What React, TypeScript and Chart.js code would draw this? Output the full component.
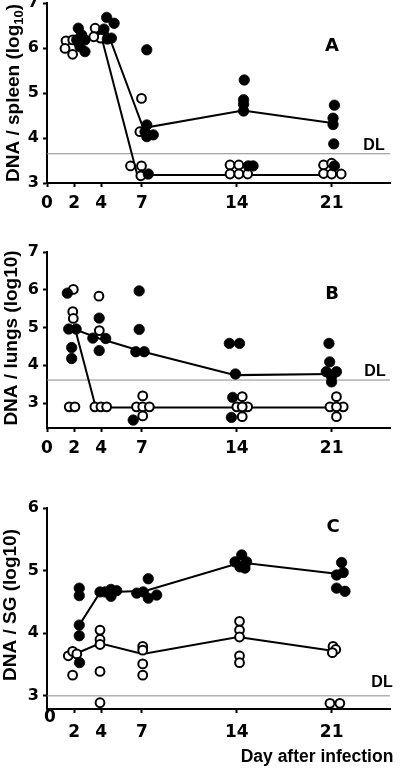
import React, { useEffect, useRef } from 'react';
import { Chart, registerables } from 'chart.js';
Chart.register(...registerables);

const FONT = "'Liberation Sans', Arial, Helvetica, sans-serif";
const TICK_FONT = "'DejaVu Sans', 'Liberation Sans', Arial, sans-serif";
const X_TICKS = [0, 2, 4, 7, 14, 21];
const X_MAX = 25.3;

// ---------- Panel A : spleen ----------
const A_Y_TICKS = [3, 4, 5, 6, 7];
const A_FILLED_DAY = [2.31, 2.19, 2.8, 2.8, 2.43, 2.56, 4.4, 4.95, 4.2, 4.75, 4.45, 7.36, 7.36, 7.23, 7.36, 7.84, 7.47, 14.55, 14.5, 14.5, 14.5, 14.85, 15.2, 21.2, 21.1, 21.1, 21.15, 21.2];
const A_FILLED_VAL = [6.44, 6.18, 6.18, 5.92, 6.03, 6.29, 6.68, 6.55, 6.42, 6.22, 6.2, 5.96, 4.29, 4.14, 4.03, 4.07, 3.2, 5.29, 4.85, 4.75, 4.6, 3.38, 3.38, 4.73, 4.44, 4.3, 3.87, 3.38];
const A_OPEN_DAY = [1.4, 1.33, 1.89, 1.9, 3.55, 3.95, 3.45, 6.97, 6.85, 6.16, 6.97, 6.92, 13.5, 14.15, 13.5, 14.15, 14.8, 20.4, 21.0, 20.4, 21.0, 21.7];
const A_OPEN_VAL = [6.16, 5.99, 5.86, 6.18, 6.44, 6.22, 6.25, 4.88, 4.14, 3.38, 3.38, 3.16, 3.4, 3.4, 3.2, 3.2, 3.2, 3.4, 3.44, 3.21, 3.2, 3.2];
const A_FILLED_MEAN_DAY = [2.5, 4.4, 7.1, 14.45, 21.3];
const A_FILLED_MEAN_VAL = [6.15, 6.4, 4.22, 4.61, 4.32];
const A_OPEN_MEAN_DAY = [2.0, 3.9, 6.66, 14, 21];
const A_OPEN_MEAN_VAL = [6.05, 6.38, 3.18, 3.18, 3.18];
const A_DL = 3.65;

// ---------- Panel B : lungs ----------
const B_Y_TICKS = [3, 4, 5, 6, 7];
const B_FILLED_DAY = [1.5, 1.6, 2.15, 1.82, 1.82, 3.38, 4.33, 3.85, 3.85, 6.8, 6.8, 6.55, 7.17, 6.36, 13.45, 14.2, 13.9, 13.7, 13.6, 20.8, 20.85, 20.6, 21.35, 20.99, 20.99];
const B_FILLED_VAL = [5.91, 4.96, 4.96, 4.47, 4.18, 4.72, 4.71, 5.25, 4.39, 5.97, 4.95, 4.36, 4.36, 2.55, 4.58, 4.58, 3.77, 3.15, 2.62, 4.58, 4.09, 3.83, 3.83, 3.7, 3.56];
const B_OPEN_DAY = [1.94, 1.9, 1.94, 1.64, 2.06, 3.83, 3.86, 3.53, 3.98, 4.4, 7.06, 6.6, 7.06, 7.55, 7.06, 14.4, 14.0, 14.8, 14.4, 14.4, 21.35, 20.87, 21.85, 21.35, 21.35];
const B_OPEN_VAL = [6.01, 5.42, 5.24, 2.9, 2.9, 5.83, 4.92, 2.9, 2.9, 2.9, 3.19, 2.9, 2.9, 2.9, 2.66, 3.17, 2.9, 2.9, 2.9, 2.64, 3.17, 2.9, 2.9, 2.9, 2.64];
const B_FILLED_MEAN_DAY = [2.06, 3.85, 7.1, 13.9, 21.0];
const B_FILLED_MEAN_VAL = [4.95, 4.71, 4.36, 3.74, 3.77];
const B_OPEN_MEAN_DAY = [2.1, 3.6, 7, 14, 21.4];
const B_OPEN_MEAN_VAL = [4.93, 2.88, 2.88, 2.88, 2.88];
const B_DL = 3.61;

// ---------- Panel C : salivary glands ----------
const C_Y_TICKS = [3, 4, 5, 6];
const C_FILLED_DAY = [2.38, 2.38, 2.38, 2.38, 2.4, 3.91, 4.28, 4.72, 4.72, 5.14, 7.47, 6.62, 7.1, 7.47, 8.09, 14.36, 13.87, 14.72, 14.23, 14.6, 21.73, 21.85, 21.36, 21.36, 21.98];
const C_FILLED_VAL = [4.72, 4.6, 4.13, 3.96, 3.53, 4.66, 4.66, 4.7, 4.59, 4.68, 4.87, 4.64, 4.66, 4.56, 4.61, 5.25, 5.14, 5.14, 5.06, 5.04, 5.13, 4.97, 4.93, 4.72, 4.67];
const C_OPEN_DAY = [1.57, 1.89, 2.2, 1.89, 3.91, 3.91, 3.91, 3.91, 3.91, 7.06, 7.06, 7.06, 7.06, 14.2, 14.2, 14.2, 14.2, 14.2, 21.1, 21.3, 21.05, 20.87, 21.6];
const C_OPEN_VAL = [3.64, 3.71, 3.67, 3.33, 4.05, 3.9, 3.82, 3.39, 2.89, 3.79, 3.73, 3.51, 3.33, 4.19, 4.05, 3.94, 3.64, 3.53, 3.79, 3.74, 3.69, 2.88, 2.88];
const C_FILLED_MEAN_DAY = [2.38, 3.91, 7.3, 14.3, 21.36];
const C_FILLED_MEAN_VAL = [4.13, 4.65, 4.68, 5.13, 4.95];
const C_OPEN_MEAN_DAY = [2.2, 3.91, 7.06, 14.1, 21.05];
const C_OPEN_MEAN_VAL = [3.68, 3.84, 3.67, 3.94, 3.72];
const C_DL = 3.0;

type TitlePart = { text: string; sub?: boolean };
type Panel = {
  top: number; height: number; areaTop: number; areaBottom: number;
  yMin: number; yMax: number; yTicks: number[];
  fd: number[]; fv: number[]; od: number[]; ov: number[];
  fmd: number[]; fmv: number[]; omd: number[]; omv: number[];
  dl: number;
  letter: string; letterX: number; letterY: number;
  dlX: number; dlY: number;
  title: TitlePart[]; titleX: number; titleY: number;
  hideZero?: boolean; xPad: number;
  extra?: boolean;
};

const PANELS: Panel[] = [
  {
    top: -12, height: 227, areaTop: 15, areaBottom: 195, yMin: 3, yMax: 7, yTicks: A_Y_TICKS,
    fd: A_FILLED_DAY, fv: A_FILLED_VAL, od: A_OPEN_DAY, ov: A_OPEN_VAL,
    fmd: A_FILLED_MEAN_DAY, fmv: A_FILLED_MEAN_VAL, omd: A_OPEN_MEAN_DAY, omv: A_OPEN_MEAN_VAL,
    dl: A_DL, letter: 'A', letterX: 332, letterY: 46, dlX: 374, dlY: 146,
    title: [{ text: 'DNA / spleen (log' }, { text: '10', sub: true }, { text: ')' }], titleX: 14, titleY: 93,
    xPad: 6,
  },
  {
    top: 230, height: 232, areaTop: 22, areaBottom: 198, yMin: 2.34, yMax: 7, yTicks: B_Y_TICKS,
    fd: B_FILLED_DAY, fv: B_FILLED_VAL, od: B_OPEN_DAY, ov: B_OPEN_VAL,
    fmd: B_FILLED_MEAN_DAY, fmv: B_FILLED_MEAN_VAL, omd: B_OPEN_MEAN_DAY, omv: B_OPEN_MEAN_VAL,
    dl: B_DL, letter: 'B', letterX: 332, letterY: 294, dlX: 375, dlY: 372,
    title: [{ text: 'DNA / lungs (log10)' }], titleX: 12, titleY: 338,
    xPad: 6,
  },
  {
    top: 480, height: 288, areaTop: 28, areaBottom: 229, yMin: 2.79, yMax: 6, yTicks: C_Y_TICKS,
    fd: C_FILLED_DAY, fv: C_FILLED_VAL, od: C_OPEN_DAY, ov: C_OPEN_VAL,
    fmd: C_FILLED_MEAN_DAY, fmv: C_FILLED_MEAN_VAL, omd: C_OPEN_MEAN_DAY, omv: C_OPEN_MEAN_VAL,
    dl: C_DL, letter: 'C', letterX: 333, letterY: 527, dlX: 382, dlY: 683,
    title: [{ text: 'DNA / SG (log10)' }], titleX: 11, titleY: 605,
    hideZero: true, xPad: 9, extra: true,
  },
];

const zip = (xs: number[], ys: number[]) => xs.map((x, i) => ({ x, y: ys[i] }));

function makeChart(canvas: HTMLCanvasElement, p: Panel) {
  const labelPlugin = {
    id: 'labels' + p.letter,
    afterDraw(chart: any) {
      const ctx = chart.ctx as CanvasRenderingContext2D;
      ctx.save();
      ctx.fillStyle = '#000';
      ctx.textAlign = 'center';
      ctx.textBaseline = 'middle';
      ctx.font = `bold 18px ${TICK_FONT}`;
      ctx.fillText(p.letter, p.letterX, p.letterY - p.top);
      ctx.font = `bold 16px ${FONT}`;
      ctx.fillText('DL', p.dlX, p.dlY - p.top);
      if (p.extra) {
        ctx.font = `bold 17px ${TICK_FONT}`;
        ctx.fillText('0', 50, 718 - p.top);
        ctx.font = `bold 17.5px ${FONT}`;
        ctx.fillText('Day after infection', 317, 757 - p.top);
      }
      // rotated y title
      ctx.translate(p.titleX, p.titleY - p.top);
      ctx.rotate(-Math.PI / 2);
      ctx.textAlign = 'left';
      const mainFont = `bold 19px ${FONT}`;
      const subFont = `bold 13px ${FONT}`;
      let total = 0;
      const widths = p.title.map((t) => {
        ctx.font = t.sub ? subFont : mainFont;
        const w = ctx.measureText(t.text).width;
        total += w;
        return w;
      });
      let x = -total / 2;
      p.title.forEach((t, i) => {
        ctx.font = t.sub ? subFont : mainFont;
        ctx.fillText(t.text, x, t.sub ? 5 : 0);
        x += widths[i];
      });
      ctx.restore();
    },
  };

  return new Chart(canvas, {
    type: 'scatter',
    data: {
      datasets: [
        { data: zip(p.fd, p.fv), backgroundColor: '#000', borderColor: '#000', pointRadius: 5.2, borderWidth: 0.8, order: 0, clip: false } as any,
        { data: zip(p.od, p.ov), backgroundColor: '#fff', borderColor: '#000', pointRadius: 4.4, borderWidth: 2, order: 1, clip: false } as any,
        { data: zip(p.fmd, p.fmv), showLine: true, borderColor: '#000', borderWidth: 2, pointRadius: 0, order: 2 } as any,
        { data: zip(p.omd, p.omv), showLine: true, borderColor: '#000', borderWidth: 2, pointRadius: 0, order: 3 } as any,
        { data: [{ x: 0, y: p.dl }, { x: X_MAX, y: p.dl }], showLine: true, borderColor: '#8a8a8a', borderWidth: 1, pointRadius: 0, order: 4 } as any,
      ],
    },
    options: {
      responsive: false,
      animation: false,
      events: [],
      layout: { padding: { top: p.areaTop, right: 10, left: 0, bottom: 0 } },
      plugins: { legend: { display: false }, tooltip: { enabled: false } },
      scales: {
        x: {
          type: 'linear', min: 0, max: X_MAX,
          afterBuildTicks: (s: any) => { s.ticks = X_TICKS.map((v) => ({ value: v })); },
          afterFit: (s: any) => { s.height = p.height - p.areaBottom; },
          grid: { drawOnChartArea: false, drawTicks: true, tickLength: 4, tickWidth: 2, tickColor: '#000' },
          border: { display: true, color: '#000', width: 2 },
          ticks: {
            color: '#000', font: { family: TICK_FONT, size: 17, weight: 'bold' }, padding: p.xPad,
            maxRotation: 0, autoSkip: false,
            callback: (v: any) => (p.hideZero && v === 0 ? '' : String(v)),
          },
        },
        y: {
          type: 'linear', min: p.yMin, max: p.yMax,
          afterBuildTicks: (s: any) => { s.ticks = p.yTicks.map((v) => ({ value: v })); },
          afterFit: (s: any) => { s.width = 47; },
          grid: { drawOnChartArea: false, drawTicks: true, tickLength: 4, tickWidth: 2, tickColor: '#000' },
          border: { display: true, color: '#000', width: 2 },
          ticks: { color: '#000', font: { family: TICK_FONT, size: 16, weight: 'bold' }, padding: 4, callback: (v: any) => String(v) },
        },
      },
    } as any,
    plugins: [labelPlugin],
  });
}

function PanelChart({ p }: { p: Panel }) {
  const ref = useRef<HTMLCanvasElement>(null);
  useEffect(() => {
    if (!ref.current) return;
    const c = makeChart(ref.current, p);
    return () => c.destroy();
  }, [p]);
  return (
    <canvas
      ref={ref}
      width={400}
      height={p.height}
      style={{ position: 'absolute', left: 0, top: p.top, width: 400, height: p.height, display: 'block' }}
    />
  );
}

export default function App() {
  return (
    <div style={{ position: 'absolute', left: 0, top: 0, width: 400, height: 768, overflow: 'hidden', background: '#fff' }}>
      {PANELS.map((p) => (
        <PanelChart key={p.letter} p={p} />
      ))}
    </div>
  );
}
